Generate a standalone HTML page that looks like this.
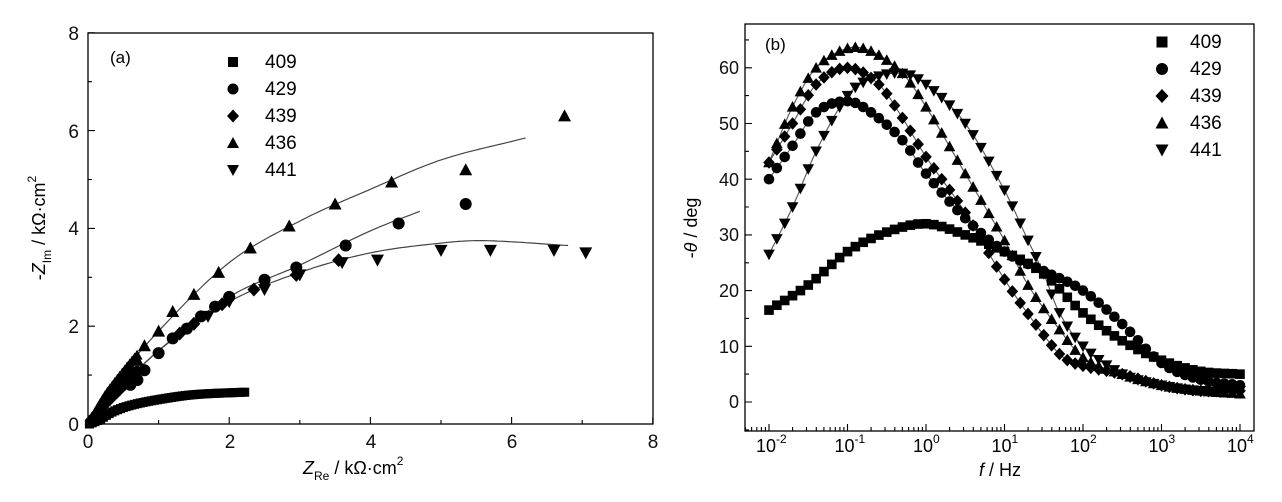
<!DOCTYPE html>
<html><head><meta charset="utf-8"><style>
html,body{margin:0;padding:0;background:#fff;}
svg{display:block;font-family:"Liberation Sans",Arial,sans-serif;}
</style></head><body>
<svg id="s" width="1282" height="502" viewBox="0 0 1282 502" xmlns="http://www.w3.org/2000/svg">
<rect width="1282" height="502" fill="#fff"/>
<rect x="88" y="33" width="565" height="391" fill="none" stroke="#000" stroke-width="1.3"/>
<g font-size="19" fill="#111" text-anchor="middle">
<text x="88" y="448">0</text><text x="230" y="448">2</text><text x="371" y="448">4</text><text x="512" y="448">6</text><text x="653" y="448">8</text>
</g>
<g font-size="19" fill="#111" text-anchor="end">
<text x="79" y="431">0</text><text x="79" y="333">2</text><text x="79" y="235">4</text><text x="79" y="138">6</text><text x="79" y="40">8</text>
</g>
<text x="110" y="63" font-size="17">(a)</text>
<text x="303" y="474" font-size="18"><tspan font-style="italic">Z</tspan><tspan dy="6" font-size="12">Re</tspan><tspan dy="-6"> / kΩ·cm</tspan><tspan dy="-9" font-size="12">2</tspan></text>
<text transform="translate(45,228) rotate(-90)" x="0" y="0" font-size="18" text-anchor="middle">-<tspan font-style="italic">Z</tspan><tspan dy="6" font-size="12">Im</tspan><tspan dy="-6"> / kΩ·cm</tspan><tspan dy="-9" font-size="12">2</tspan></text>
<rect x="745" y="24" width="509" height="407" fill="none" stroke="#000" stroke-width="1.3"/>
<g font-size="18" fill="#111" text-anchor="end">
<text x="739" y="408">0</text><text x="739" y="353">10</text><text x="739" y="297">20</text><text x="739" y="241">30</text><text x="739" y="186">40</text><text x="739" y="130">50</text><text x="739" y="74">60</text>
</g>
<text x="765" y="50" font-size="17">(b)</text>
<text x="1000" y="476" font-size="18" text-anchor="middle"><tspan font-style="italic">f</tspan> / Hz</text>
<text transform="translate(697,228) rotate(-90)" x="0" y="0" font-size="18" text-anchor="middle">-<tspan font-style="italic">θ</tspan> / deg</text>
<g id="g"></g>
</svg>
<script>
var G=document.getElementById('g'),h='';
function mk(t,x,y,r){r=r||5.5;
 if(t==0)return '<rect x="'+(x-r)+'" y="'+(y-r)+'" width="'+2*r+'" height="'+2*r+'"/>';
 if(t==1)return '<circle cx="'+x+'" cy="'+y+'" r="'+(r+0.5)+'"/>';
 if(t==2)return '<polygon points="'+x+','+(y-r-1.5)+' '+(x+r+1)+','+y+' '+x+','+(y+r+1.5)+' '+(x-r-1)+','+y+'"/>';
 if(t==3)return '<polygon points="'+x+','+(y-r-1)+' '+(x+r+1)+','+(y+r)+' '+(x-r-1)+','+(y+r)+'"/>';
 return '<polygon points="'+x+','+(y+r+1)+' '+(x+r+1)+','+(y-r)+' '+(x-r-1)+','+(y-r)+'"/>';}
function cr(P,u){var n=P.length;if(u<=P[0][0])return P[0][1];if(u>=P[n-1][0])return P[n-1][1];
 for(var i=0;i<n-1;i++)if(u<=P[i+1][0])break;
 var p0=P[Math.max(i-1,0)],p1=P[i],p2=P[i+1],p3=P[Math.min(i+2,n-1)];
 var t=(u-p1[0])/(p2[0]-p1[0]);
 var m1=(p2[1]-p0[1])/(p2[0]-p0[0]||1)*(p2[0]-p1[0]),m2=(p3[1]-p1[1])/(p3[0]-p1[0]||1)*(p2[0]-p1[0]);
 var t2=t*t,t3=t2*t;return (2*t3-3*t2+1)*p1[1]+(t3-2*t2+t)*m1+(-2*t3+3*t2)*p2[1]+(t3-t2)*m2;}
function ax(x){return 88+x*70.6}function ay(y){return 424-y*48.9}
function lineA(P,x1){var d='';for(var x=0;x<=x1;x+=0.05){d+=(d?'L':'M')+ax(x).toFixed(1)+','+ay(cr(P,x)).toFixed(1);}
 return '<path d="'+d+'" fill="none" stroke="#444" stroke-width="1.2"/>';}
var c436=[[0,0],[0.3,0.7],[1,1.9],[2,3.3],[3,4.15],[4,4.8],[5,5.4],[6.2,5.85]];
var c429=[[0,0],[0.3,0.5],[1,1.5],[2,2.6],[3,3.25],[4,3.95],[4.7,4.35]];
var c441=[[0,0],[0.3,0.5],[1,1.5],[2,2.5],[3,3.1],[4,3.5],[5,3.7],[5.6,3.75],[6.8,3.65]];
h+=lineA(c436,6.2)+lineA(c429,4.7)+lineA(c441,6.8);
var c409=[[0.02,0],[0.15,0.08],[0.35,0.25],[0.6,0.38],[1,0.5],[1.5,0.6],[2.2,0.65]];
for(var x=0.02;x<=2.25;x+=0.04)h+=mk(0,ax(x),ay(cr(c409,x)),4.5);
for(var x=0.03;x<0.7;x+=0.035){h+=mk(1,ax(x),ay(cr(c429,x)),4.5);h+=mk(3,ax(x),ay(cr(c436,x)),4.5);h+=mk(2,ax(x),ay(cr(c441,x)*0.95),4.5);}
[[0.8,1.1],[1,1.45],[1.2,1.75],[1.4,1.95],[1.6,2.2],[1.8,2.4],[2,2.6],[2.5,2.95],[2.95,3.2],[3.65,3.65],[4.4,4.1],[5.35,4.5],[0.7,0.9],[0.6,0.8]].forEach(function(p){h+=mk(1,ax(p[0]),ay(p[1]));});
[[0.7,1.3],[0.8,1.6],[1,1.9],[1.2,2.3],[1.5,2.65],[1.85,3.1],[2.3,3.6],[2.85,4.05],[3.5,4.5],[4.3,4.95],[5.35,5.2],[6.75,6.3],[0.6,1.15]].forEach(function(p){h+=mk(3,ax(p[0]),ay(p[1]));});
[[1.3,1.85],[1.5,2.05],[1.9,2.45],[2.35,2.75],[2.95,3.05],[3.55,3.35]].forEach(function(p){h+=mk(2,ax(p[0]),ay(p[1]));});
[[1.7,2.2],[2.0,2.5],[2.5,2.75],[3.0,3.05],[3.6,3.3],[4.1,3.35],[5,3.55],[5.7,3.55],[6.6,3.55],[7.05,3.5]].forEach(function(p){h+=mk(4,ax(p[0]),ay(p[1]));});
var lab=['409','429','439','436','441'],ly=[68,95,122,149,176];
for(var i=0;i<5;i++){h+=mk(i,233,ly[i]-6,5);h+='<text x="265" y="'+ly[i]+'" font-size="19">'+lab[i]+'</text>';}
function bx(u){return 769+(u+2)*78.5}function by(v){return 402-v*5.57}
var B=[
[[-2,16.5],[-1.5,21],[-1,27],[-0.5,30.5],[0,32],[0.5,30],[1,27],[1.5,23],[2,16],[2.5,11],[3,7.5],[3.5,5.5],[4,5]],
[[-2,40],[-1.7,46],[-1.4,52],[-1,54],[-0.7,52],[-0.3,47],[0,41],[0.5,33],[1,27],[1.5,23.5],[2,20],[2.5,14],[3,7],[3.5,4],[4,3]],
[[-2,43],[-1.7,50],[-1.4,57],[-1,60],[-0.6,57],[-0.3,51],[0,44],[0.5,34],[1,22],[1.5,12],[1.75,8],[2,6.5],[2.5,5],[3,3],[3.5,2],[4,2]],
[[-2,43],[-1.7,53],[-1.4,60],[-1,63.5],[-0.7,63],[-0.3,59],[0,53],[0.5,41],[1,29],[1.3,21],[1.7,13],[2,8],[2.5,5],[3,3],[3.5,2],[4,1.5]],
[[-2,26.5],[-1.7,35],[-1.4,45],[-1,55],[-0.7,58],[-0.3,59],[0,57],[0.5,50],[1,38],[1.3,29],[1.5,23],[1.7,16],[2,10],[2.5,5],[3,3],[3.5,2],[4,2]]];
for(var k=0;k<5;k++){var d='';for(var u=-2;u<=4.001;u+=0.02)d+=(d?'L':'M')+bx(u).toFixed(1)+','+by(cr(B[k],u)).toFixed(1);
 h+='<path d="'+d+'" fill="none" stroke="#555" stroke-width="1.1"/>';}
for(var k=0;k<5;k++)for(var u=-2;u<=4.001;u+=0.1)h+=mk(k,bx(u),by(cr(B[k],u)),4.8);
var ly2=[48,75,102,129,156];
for(var i=0;i<5;i++){h+=mk(i,1162,ly2[i]-6,5.5);h+='<text x="1190" y="'+ly2[i]+'" font-size="19">'+lab[i]+'</text>';}
var t='';
for(var e=-2;e<=4;e++){var x=bx(e);t+='M'+x+',431v-7';
 h+='<text x="'+(x-13)+'" y="452" font-size="18">10<tspan dy="-9" font-size="12">'+(e<0?'-'+(-e):e)+'</tspan></text>';
 if(e<4)for(var m=2;m<10;m++){var xm=bx(e+Math.log10(m));t+='M'+xm.toFixed(1)+',431v-4';}}
for(var m=5;m<10;m++)t+='M'+bx(-3+Math.log10(m)).toFixed(1)+',431v-4';
for(var v=-5;v<=65;v+=5)t+='M745,'+by(v).toFixed(1)+'h'+(v%10==0?7:4);
for(var x=0;x<=8;x+=1)t+='M'+ax(x)+',424v'+(x%2==0?-7:-4);
for(var y=0;y<=8;y+=1)t+='M88,'+ay(y)+'h'+(y%2==0?7:4);
h+='<path d="'+t+'" stroke="#000" stroke-width="1.1" fill="none"/>';
G.innerHTML=h;
</script>
</body></html>
